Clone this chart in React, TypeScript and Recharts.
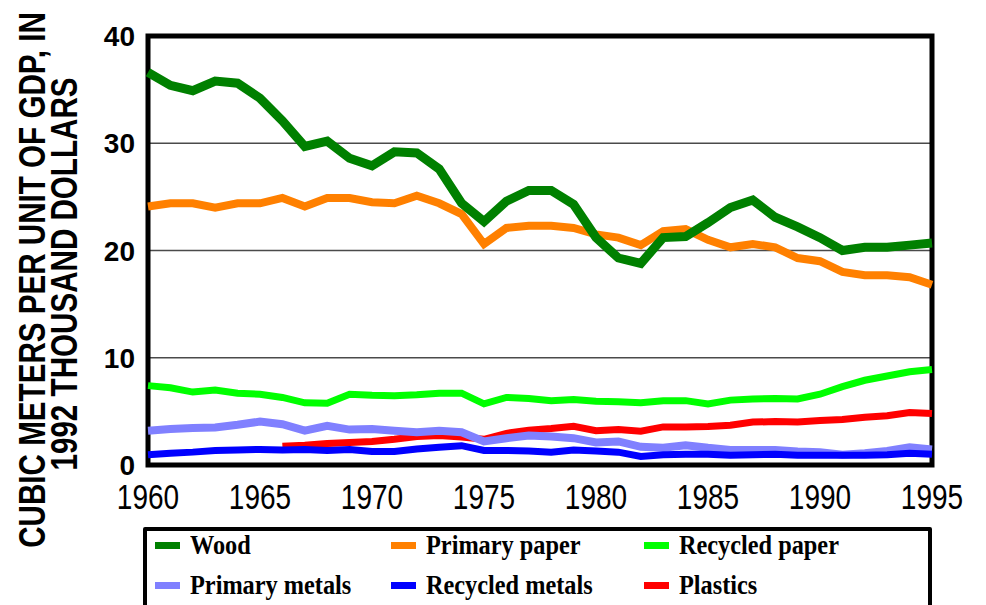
import { CartesianGrid, Line, LineChart, ReferenceArea, XAxis, YAxis } from "recharts";

const years = [
  1960, 1961, 1962, 1963, 1964, 1965, 1966, 1967, 1968, 1969, 1970, 1971, 1972, 1973, 1974, 1975, 1976, 1977,
  1978, 1979, 1980, 1981, 1982, 1983, 1984, 1985, 1986, 1987, 1988, 1989, 1990, 1991, 1992, 1993, 1994, 1995,
];

const wood = [
  36.6, 35.4, 34.9, 35.8, 35.6, 34.2, 32.1, 29.7, 30.2, 28.6, 27.9, 29.2, 29.1, 27.6, 24.4, 22.7, 24.6, 25.6,
  25.6, 24.3, 21.2, 19.3, 18.8, 21.2, 21.3, 22.6, 24.0, 24.7, 23.1, 22.2, 21.2, 20.0, 20.3, 20.3, 20.5, 20.7,
];
const primaryPaper = [
  24.1, 24.4, 24.4, 24.0, 24.4, 24.4, 24.9, 24.1, 24.9, 24.9, 24.5, 24.4, 25.1, 24.4, 23.4, 20.6, 22.1, 22.3,
  22.3, 22.1, 21.5, 21.2, 20.5, 21.8, 22.0, 21.0, 20.3, 20.6, 20.3, 19.3, 19.0, 18.0, 17.7, 17.7, 17.5, 16.8,
];
const recycledPaper = [
  7.4, 7.2, 6.8, 7.0, 6.7, 6.6, 6.3, 5.8, 5.75, 6.6, 6.5, 6.45, 6.55, 6.7, 6.7, 5.7, 6.3, 6.2,
  6.0, 6.1, 5.95, 5.9, 5.8, 6.0, 6.0, 5.7, 6.05, 6.15, 6.2, 6.15, 6.6, 7.3, 7.9, 8.3, 8.7, 8.9,
];
const primaryMetals = [
  3.2, 3.35, 3.45, 3.5, 3.75, 4.05, 3.8, 3.2, 3.65, 3.3, 3.35, 3.2, 3.05, 3.2, 3.05, 2.2, 2.5, 2.75,
  2.65, 2.5, 2.1, 2.2, 1.7, 1.6, 1.85, 1.6, 1.4, 1.4, 1.4, 1.25, 1.2, 0.95, 1.1, 1.3, 1.65, 1.45,
];
const recycledMetals = [
  0.95, 1.1, 1.2, 1.35, 1.4, 1.45, 1.4, 1.45, 1.35, 1.45, 1.25, 1.25, 1.5, 1.65, 1.8, 1.35, 1.35, 1.3,
  1.2, 1.4, 1.3, 1.2, 0.8, 0.95, 1.0, 1.0, 0.9, 0.95, 1.0, 0.9, 0.9, 0.9, 0.9, 0.95, 1.1, 1.0,
];
const plastics = [
  null, null, null, null, null, null, 1.75, 1.85, 2.0, 2.1, 2.2, 2.4, 2.65, 2.75, 2.6, 2.4, 2.95, 3.25,
  3.4, 3.6, 3.2, 3.3, 3.15, 3.55, 3.55, 3.6, 3.7, 4.0, 4.05, 4.0, 4.15, 4.25, 4.45, 4.6, 4.9, 4.8,
];

const xTicks = [1960, 1965, 1970, 1975, 1980, 1985, 1990, 1995];
const yTicks = [0, 10, 20, 30, 40];

// legend order (3 per row); draw order is separate below
const SERIES = [
  { key: "wood", name: "Wood", color: "#008000", values: wood, width: 9 },
  { key: "primaryPaper", name: "Primary paper", color: "#ff8000", values: primaryPaper, width: 8 },
  { key: "recycledPaper", name: "Recycled paper", color: "#00ff00", values: recycledPaper, width: 7 },
  { key: "primaryMetals", name: "Primary metals", color: "#8080ff", values: primaryMetals, width: 8 },
  { key: "recycledMetals", name: "Recycled metals", color: "#0000ff", values: recycledMetals, width: 7 },
  { key: "plastics", name: "Plastics", color: "#ff0000", values: plastics, width: 7 },
];
const DRAW_ORDER = ["plastics", "recycledPaper", "primaryPaper", "wood", "primaryMetals", "recycledMetals"];

const rows = years.map((year, i) => {
  const row: Record<string, number | null> = { year };
  SERIES.forEach((s) => (row[s.key] = s.values[i]));
  return row;
});

const SANS = "'Liberation Sans', Arial, sans-serif";

// no narrow face installed, so squeeze Liberation Sans horizontally
function XTick({ x, y, payload }: { x?: number; y?: number; payload?: { value: number } }) {
  return (
    <text
      transform={`translate(${x},${(y ?? 0) + 44}) scale(0.8,1)`}
      textAnchor="middle"
      fontFamily={SANS}
      fontSize={35}
      fill="#000"
    >
      {payload?.value}
    </text>
  );
}

function YTick({ x, y, payload }: { x?: number; y?: number; payload?: { value: number } }) {
  return (
    <text x={(x ?? 0) - 13} y={(y ?? 0) + 10} textAnchor="end" fontFamily={SANS} fontWeight="bold" fontSize={28} fill="#000">
      {payload?.value}
    </text>
  );
}

export default function App() {
  return (
    <div style={{ position: "fixed", left: 0, top: 0, width: 986, height: 605, background: "#fff", overflow: "hidden" }}>
      <LineChart width={986} height={520} data={rows} margin={{ top: 36, right: 54, bottom: 0, left: 0 }}>
        <CartesianGrid vertical={false} stroke="#4a4a4a" strokeWidth={1.5} />
        <XAxis
          dataKey="year"
          type="number"
          domain={[1960, 1995]}
          ticks={xTicks}
          tick={<XTick />}
          tickLine={false}
          axisLine={false}
          tickSize={0}
          tickMargin={0}
          height={55}
        />
        <YAxis
          domain={[0, 40]}
          ticks={yTicks}
          tick={<YTick />}
          tickLine={false}
          axisLine={false}
          tickSize={0}
          tickMargin={0}
          width={148}
        />
        {DRAW_ORDER.map((k) => {
          const s = SERIES.find((d) => d.key === k)!;
          return (
            <Line
              key={k}
              dataKey={k}
              name={s.name}
              stroke={s.color}
              strokeWidth={s.width}
              dot={false}
              activeDot={false}
              connectNulls={false}
              isAnimationActive={false}
            />
          );
        })}
        <ReferenceArea x1={1960} x2={1995} y1={0} y2={40} fill="none" stroke="#000" strokeWidth={5} ifOverflow="visible" />
      </LineChart>

      <svg width={110} height={605} style={{ position: "absolute", left: 0, top: 0 }}>
        <g fontFamily={SANS} fontWeight="bold" fontSize={37} fill="#000" textAnchor="middle">
          <text transform="translate(45,280) rotate(-90) scale(0.8,1)">CUBIC METERS PER UNIT OF GDP, IN</text>
          <text transform="translate(77,274) rotate(-90) scale(0.8,1)">1992 THOUSAND DOLLARS</text>
        </g>
      </svg>

      <div
        style={{
          position: "absolute",
          left: 143,
          top: 527,
          width: 789,
          height: 90,
          border: "4px solid #000",
          borderRadius: 2,
          fontFamily: "'Liberation Serif', 'Times New Roman', serif",
          fontWeight: "bold",
          fontSize: 27,
          display: "grid",
          gridTemplateColumns: "236px 253px 1fr",
          gridTemplateRows: "28px 52px",
          paddingLeft: 8,
          boxSizing: "border-box",
        }}
      >
        {SERIES.map((s) => (
          <div key={s.key} style={{ display: "flex", alignItems: "center", gap: 10, whiteSpace: "nowrap" }}>
            <span style={{ width: 25, height: 7, background: s.color, display: "inline-block" }} />
            <span style={{ transform: "scaleX(0.9)", transformOrigin: "left center", display: "inline-block" }}>{s.name}</span>
          </div>
        ))}
      </div>
    </div>
  );
}
